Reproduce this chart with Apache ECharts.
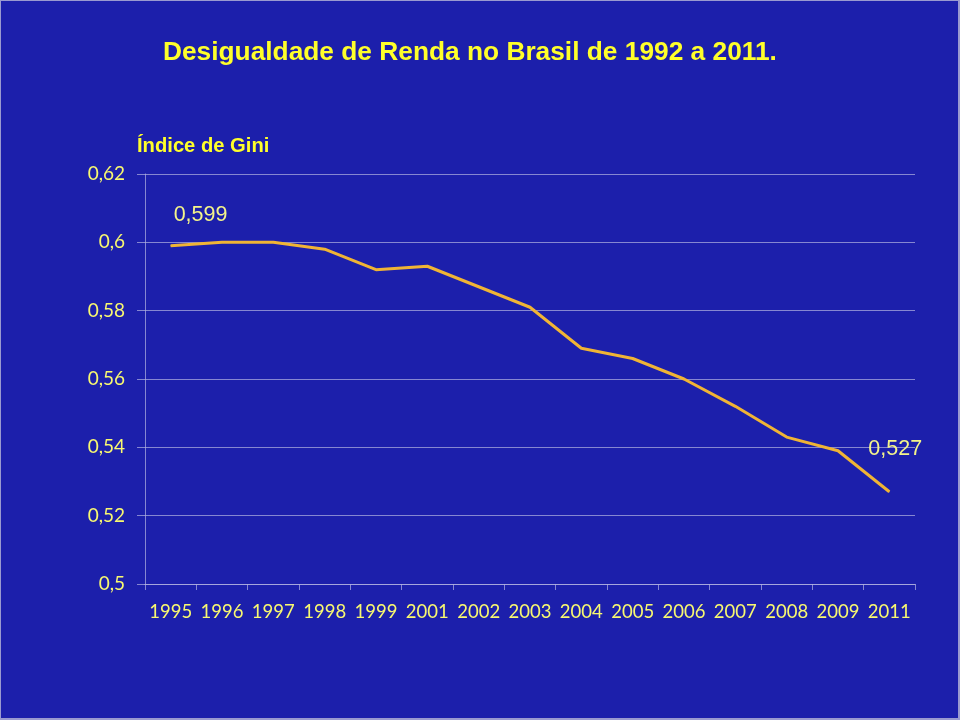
<!DOCTYPE html>
<html><head><meta charset="utf-8">
<script src="https://cdn.jsdelivr.net/npm/echarts@6/dist/echarts.min.js"></script>
<style>
html,body{margin:0;padding:0;background:#9a9ad0;}
#c{position:absolute;left:1px;top:1px;width:957px;height:717px;}
</style></head><body>
<div id="c"></div>
<script>
const categories = ['1995','1996','1997','1998','1999','2001','2002','2003','2004','2005','2006','2007','2008','2009','2011'];
const gini = [0.599,0.600,0.600,0.598,0.592,0.593,0.587,0.581,0.569,0.566,0.560,0.552,0.543,0.539,0.527];
const yTicks = {min:0.5, max:0.62, interval:0.02};
const titleText = 'Desigualdade de Renda no Brasil de 1992 a 2011.';
const subtitleText = 'Índice de Gini';

const chart = echarts.init(document.getElementById('c'));
const gridColor = 'rgba(180,180,225,0.7)';
const data = gini.map((v,i)=>{
  const item = {value:v};
  if(i===0){
    item.label = {show:true, formatter:'0,599', position:'inside', align:'left', verticalAlign:'middle', offset:[3,-31]};
  } else if(i===gini.length-1){
    item.label = {show:true, formatter:'0,527', position:'inside', align:'left', verticalAlign:'middle', offset:[-21,-43]};
  }
  return item;
});
chart.setOption({
  backgroundColor:'#1c1fab',
  animation:false,
  title:[
    {text:titleText, left:157, top:34, textStyle:{color:'#ffff2a', fontFamily:'Liberation Sans, Arial', fontWeight:'bold', fontSize:26.3}},
    {text:subtitleText, left:131, top:130, textStyle:{color:'#ffff2a', fontFamily:'Liberation Sans, Arial', fontWeight:'bold', fontSize:20.2}}
  ],
  grid:{left:144, right:43, top:173, bottom:134},
  xAxis:{
    type:'category', data:categories, boundaryGap:true,
    axisLine:{lineStyle:{color:gridColor, width:1}},
    axisTick:{show:true, length:6, lineStyle:{color:gridColor}},
    axisLabel:{color:'#f8f870', fontFamily:'Lato, sans-serif', fontSize:18.5, margin:19, interval:0}
  },
  yAxis:{
    type:'value', min:yTicks.min, max:yTicks.max, interval:yTicks.interval,
    axisLine:{show:true, lineStyle:{color:gridColor, width:1}},
    axisTick:{show:true, length:8, lineStyle:{color:gridColor}},
    splitLine:{lineStyle:{color:gridColor, width:1}},
    axisLabel:{color:'#f8f870', fontFamily:'Lato, sans-serif', fontSize:19, margin:20,
      formatter:v=>String(+v.toFixed(2)).replace('.',',')}
  },
  series:[{
    type:'line', data:data, symbol:'circle', symbolSize:1, showSymbol:true,
    lineStyle:{color:'#f0b435', width:3},
    itemStyle:{color:'#f0b435'},
    label:{show:false, color:'#f4f48a', fontFamily:'Liberation Sans, Arial', fontSize:21.5},
    emphasis:{disabled:true}
  }]
});
</script></body></html>
